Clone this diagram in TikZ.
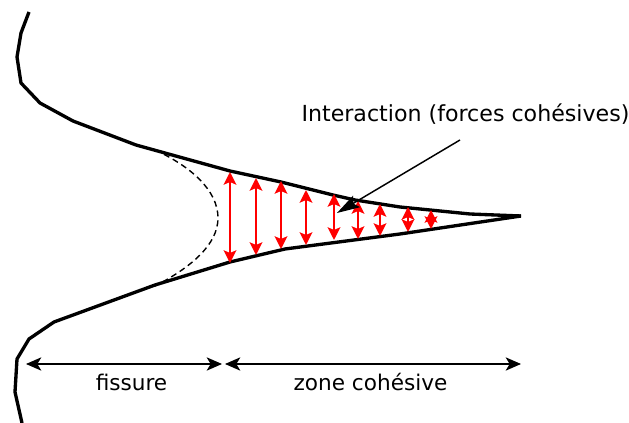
\documentclass[tikz,border=0pt]{standalone}
\usepackage{fontspec}
\setmainfont{DejaVu Sans}
\usetikzlibrary{arrows.meta}
\tikzset{
  crack/.style={line width=2.5pt,line join=round},
  force/.style={red,line width=1.7pt,{Stealth[inset=2pt,length=9.5pt,width=9.5pt]}-{Stealth[inset=2pt,length=9.5pt,width=9.5pt]}},
  dimline/.style={black,line width=0.85pt,{Stealth[inset=3pt,length=11.5pt,width=10pt]}-{Stealth[inset=3pt,length=11.5pt,width=10pt]}},
  leader/.style={black,line width=1.1pt,-{Stealth[inset=3pt,length=17pt,width=10pt]}},
  lbl/.style={inner sep=0pt,font=\fontsize{16.6}{20}\selectfont,text=black},
  lbltwo/.style={inner sep=0pt,font=\fontsize{16.2}{20}\selectfont,text=black}
}
\begin{document}
\begin{tikzpicture}[x=0.75pt,y=-0.75pt]
\useasboundingbox (0,0) rectangle (629,423);
\draw[crack] (29,12) -- (21,33) -- (17,57) -- (21,83) -- (40,103) -- (73,121) -- (136,145)
  -- (230,171) -- (281,182) -- (333,195) -- (355,200) -- (400,207) -- (470,214) -- (521,216);
\draw[crack] (22,423) -- (15,392) -- (17,359) -- (29,339) -- (54,322) -- (155,285)
  -- (230,262) -- (285,249) -- (400,234) -- (521,216);
\draw[black,line width=1.05pt,dash pattern=on 4.5pt off 3pt] (155,150) .. controls (190,166) and (218,190) .. (218,218) .. controls (218,245) and (190,268) .. (155,286);
\foreach \n/\xx/\ya/\yb in {a/230/172/263,b/256/178/255,c/281/181/249,d/306/190/245,e/334/194/240,f/358/201/239,g/380/204/236,h/408/207/232,i/431/210/229}{
  \coordinate (t\n) at (\xx,\ya);
  \coordinate (b\n) at (\xx,\yb);
  \draw[force] (t\n) -- (b\n);
}
\node[lbl,anchor=base] (inter) at (465.5,121.5) {Interaction (forces cohésives)};
\coordinate (ls) at (460,140);
\coordinate (le) at (337,213);
\draw[leader] (ls) -- (le);
\coordinate (d1) at (26,364);
\coordinate (d2) at (222,364);
\coordinate (d3) at (225,364);
\coordinate (d4) at (521,364);
\draw[dimline] (d1) -- (d2);
\draw[dimline] (d3) -- (d4);
\node[lbltwo,anchor=base] (fis) at (131.5,390.5) {fissure};
\node[lbltwo,anchor=base] (zone) at (370.5,390.5) {zone cohésive};
\end{tikzpicture}
\end{document}
